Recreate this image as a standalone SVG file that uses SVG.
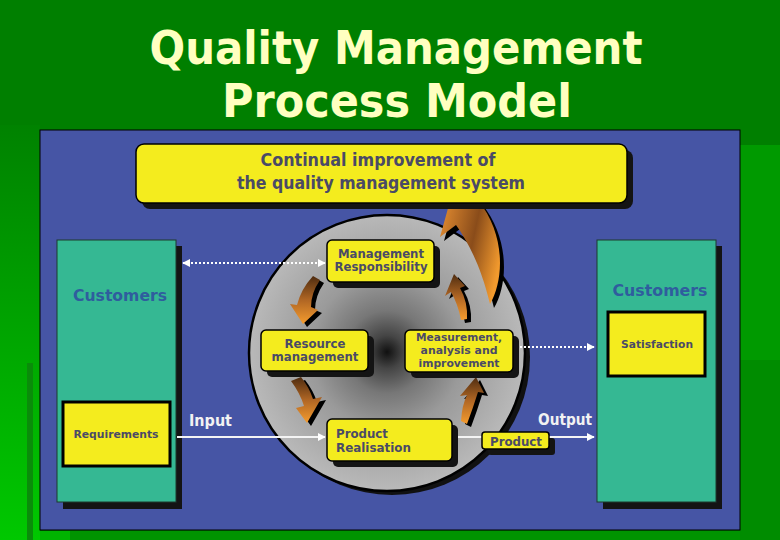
<svg xmlns="http://www.w3.org/2000/svg" width="780" height="540" viewBox="0 0 780 540">
<defs>
<style>
.box{fill:#f4ec1e;stroke:#000;stroke-width:1.5}
.sh{fill:#141414}
.bt{font-family:"DejaVu Sans",Verdana,sans-serif;font-weight:bold;font-size:12px;fill:#4a4a66;text-anchor:middle}
.btl{font-family:"DejaVu Sans",Verdana,sans-serif;font-weight:bold;font-size:13px;fill:#4a4a66}
.cust{font-family:"DejaVu Sans",Verdana,sans-serif;font-weight:bold;font-size:16px;fill:#2f5d9e;text-anchor:middle}
.panel{fill:#35b893;stroke:#1c3a2c;stroke-width:1}
.req{fill:#f4ec1e;stroke:#000;stroke-width:3}
.lbl{font-family:"DejaVu Sans",Verdana,sans-serif;font-weight:bold;font-size:15px;fill:#f2f2f2}
.title{font-family:"Liberation Sans Narrow","DejaVu Sans Condensed","Liberation Sans",sans-serif;font-weight:bold;font-size:46px;text-anchor:middle;fill:#ffffc0}
.top{font-family:"DejaVu Sans",Verdana,sans-serif;font-weight:bold;font-size:17px;fill:#4a4a66;text-anchor:middle}
.dot{stroke:#fff;stroke-width:2;stroke-dasharray:2 2;fill:none}
.solid{stroke:#f4f4f4;stroke-width:2;fill:none}
.arr{fill:url(#og)}
.ash{fill:#000}
</style>
<marker id="ah" viewBox="0 0 10 10" refX="9" refY="5" markerWidth="4" markerHeight="4" orient="auto-start-reverse"><path d="M0,0 L10,5 L0,10 Z" fill="#fff"/></marker>
<linearGradient id="lg" x1="0" y1="0" x2="0" y2="1"><stop offset="0" stop-color="#008200"/><stop offset="1" stop-color="#00c800"/></linearGradient>
<linearGradient id="og" x1="0" y1="0" x2="0" y2="1"><stop offset="0" stop-color="#4e2c10"/><stop offset="0.5" stop-color="#b06624"/><stop offset="1" stop-color="#f59c2e"/></linearGradient>
<linearGradient id="ogb" x1="0" y1="0.2" x2="1" y2="0.6"><stop offset="0" stop-color="#e08a30"/><stop offset="0.55" stop-color="#8a4c1a"/><stop offset="1" stop-color="#f29a2e"/></linearGradient>
<radialGradient id="rg" gradientUnits="userSpaceOnUse" cx="387" cy="352" r="138"><stop offset="0" stop-color="#101010"/><stop offset="0.12" stop-color="#454545"/><stop offset="0.3" stop-color="#777"/><stop offset="0.55" stop-color="#9a9a9a"/><stop offset="1" stop-color="#b9b9b9"/></radialGradient>
</defs>

<g id="background">
<rect width="780" height="540" fill="#007f00"/>
<rect x="0" y="125" width="40" height="415" fill="url(#lg)"/>
<rect x="27" y="363" width="6" height="177" fill="#0a8c0a"/>
<rect x="740" y="145" width="40" height="215" fill="#009a00"/>
<rect x="740" y="360" width="40" height="180" fill="#008c00"/>
<rect x="40" y="531" width="700" height="9" fill="#009400"/>
<rect x="40" y="531" width="30" height="9" fill="#00b400"/>
</g>

<g id="title">
<text class="title" x="396" y="64" textLength="493" lengthAdjust="spacingAndGlyphs">Quality Management</text>
<text class="title" x="397" y="117" textLength="350" lengthAdjust="spacingAndGlyphs">Process Model</text>
</g>

<rect id="panel" x="40" y="130" width="700" height="400" fill="#4655a5" stroke="#000" stroke-width="1"/>

<g id="customers-left">
<rect class="sh" x="63" y="246" width="119" height="263"/>
<rect class="panel" x="57" y="240" width="119" height="262"/>
<text class="cust" x="120" y="301" textLength="94" lengthAdjust="spacingAndGlyphs">Customers</text>
</g>
<g id="requirements">
<rect class="req" x="63" y="402" width="107" height="64"/>
<text class="bt" x="116" y="438" style="font-size:11px" textLength="85" lengthAdjust="spacingAndGlyphs">Requirements</text>
</g>

<g id="customers-right">
<rect class="sh" x="603" y="246" width="119" height="263"/>
<rect class="panel" x="597" y="240" width="119" height="262"/>
<text class="cust" x="660" y="296" textLength="95" lengthAdjust="spacingAndGlyphs">Customers</text>
</g>
<g id="satisfaction">
<rect class="req" x="608" y="312" width="97" height="64"/>
<text class="bt" x="657" y="348" style="font-size:11px" textLength="72" lengthAdjust="spacingAndGlyphs">Satisfaction</text>
</g>

<g id="process-circle">
<circle cx="392" cy="357" r="138" fill="#111"/>
<circle cx="387" cy="353" r="138" fill="url(#rg)" stroke="#000" stroke-width="2.5"/>
</g>

<g id="improvement-arrow">
<path class="ash" transform="translate(4,4)" d="M490,304 C504,280 506,235 478,200 L452,194 L440,237 L456,225 C468,242 481,266 490,304 Z"/>
<path fill="url(#ogb)" d="M490,304 C504,280 506,235 478,200 L452,194 L440,237 L456,225 C468,242 481,266 490,304 Z"/>
</g>

<g id="continual-improvement">
<rect class="sh" x="142" y="150" width="491" height="59" rx="8"/>
<rect class="box" x="136" y="144" width="491" height="59" rx="8"/>
<text class="top" x="378" y="166" textLength="235" lengthAdjust="spacingAndGlyphs">Continual improvement of</text>
<text class="top" x="381" y="189" textLength="288" lengthAdjust="spacingAndGlyphs">the quality management system</text>
</g>

<g id="cycle-arrows">
<path class="ash" transform="translate(4,3)" d="M454,274 L465,286 L460,288 Q468,302 467,319 L461,320 Q458,304 451,292 L445,296 Z"/>
<path class="arr" d="M454,274 L465,286 L460,288 Q468,302 467,319 L461,320 Q458,304 451,292 L445,296 Z"/>
<path class="ash" transform="translate(4,3)" d="M303,324 L290,304 L297,305 Q301,289 313,276 L320,280 Q311,293 311,307 L318,310 Z"/>
<path class="arr" d="M303,324 L290,304 L297,305 Q301,289 313,276 L320,280 Q311,293 311,307 L318,310 Z"/>
<path class="ash" transform="translate(4,3)" d="M291,381 L301,377 Q309,387 313,399 L322,397 L307,423 L296,408 L304,406 Q300,393 291,381 Z"/>
<path class="arr" d="M291,381 L301,377 Q309,387 313,399 L322,397 L307,423 L296,408 L304,406 Q300,393 291,381 Z"/>
<path class="ash" transform="translate(4,3)" d="M476,377 L484,393 L478,392 Q473,408 467,424 L461,421 Q462,405 467,395 L460,396 Z"/>
<path class="arr" d="M476,377 L484,393 L478,392 Q473,408 467,424 L461,421 Q462,405 467,395 L460,396 Z"/>
</g>

<g id="connectors">
<line class="dot" x1="183" y1="263" x2="325" y2="263" marker-start="url(#ah)" marker-end="url(#ah)"/>
<line class="dot" x1="520" y1="347" x2="594" y2="347" marker-end="url(#ah)"/>
<line class="solid" x1="177" y1="437" x2="325" y2="437" marker-end="url(#ah)"/>
<line class="solid" x1="452" y1="437" x2="482" y2="437"/>
<line class="solid" x1="549" y1="437" x2="594" y2="437" marker-end="url(#ah)"/>
<text class="lbl" x="189" y="426" textLength="43" lengthAdjust="spacingAndGlyphs">Input</text>
<text class="lbl" x="538" y="425" textLength="54" lengthAdjust="spacingAndGlyphs">Output</text>
</g>

<g id="management-responsibility">
<rect class="sh" x="333" y="246" width="107" height="42" rx="5"/>
<rect class="box" x="327" y="240" width="107" height="42" rx="5"/>
<text class="bt" x="381" y="258" textLength="86" lengthAdjust="spacingAndGlyphs">Management</text>
<text class="bt" x="381" y="271" textLength="93" lengthAdjust="spacingAndGlyphs">Responsibility</text>
</g>

<g id="resource-management">
<rect class="sh" x="267" y="336" width="107" height="41" rx="5"/>
<rect class="box" x="261" y="330" width="107" height="41" rx="5"/>
<text class="bt" x="315" y="348" textLength="61" lengthAdjust="spacingAndGlyphs">Resource</text>
<text class="bt" x="315" y="361" textLength="87" lengthAdjust="spacingAndGlyphs">management</text>
</g>

<g id="measurement">
<rect class="sh" x="411" y="336" width="108" height="42" rx="5"/>
<rect class="box" x="405" y="330" width="108" height="42" rx="5"/>
<text class="bt" x="459" y="341" style="font-size:10.5px" textLength="86" lengthAdjust="spacingAndGlyphs">Measurement,</text>
<text class="bt" x="459" y="354" style="font-size:10.5px" textLength="77" lengthAdjust="spacingAndGlyphs">analysis and</text>
<text class="bt" x="459" y="367" style="font-size:10.5px" textLength="81" lengthAdjust="spacingAndGlyphs">improvement</text>
</g>

<g id="product-realisation">
<rect class="sh" x="333" y="425" width="125" height="42" rx="5"/>
<rect class="box" x="327" y="419" width="125" height="42" rx="5"/>
<text class="btl" x="336" y="438" textLength="52" lengthAdjust="spacingAndGlyphs">Product</text>
<text class="btl" x="336" y="452" textLength="75" lengthAdjust="spacingAndGlyphs">Realisation</text>
</g>

<g id="product">
<rect class="sh" x="488" y="438" width="67" height="17" rx="3"/>
<rect class="box" x="482" y="432" width="67" height="17" rx="3"/>
<text class="btl" x="516" y="446" text-anchor="middle" textLength="52" lengthAdjust="spacingAndGlyphs">Product</text>
</g>
</svg>
